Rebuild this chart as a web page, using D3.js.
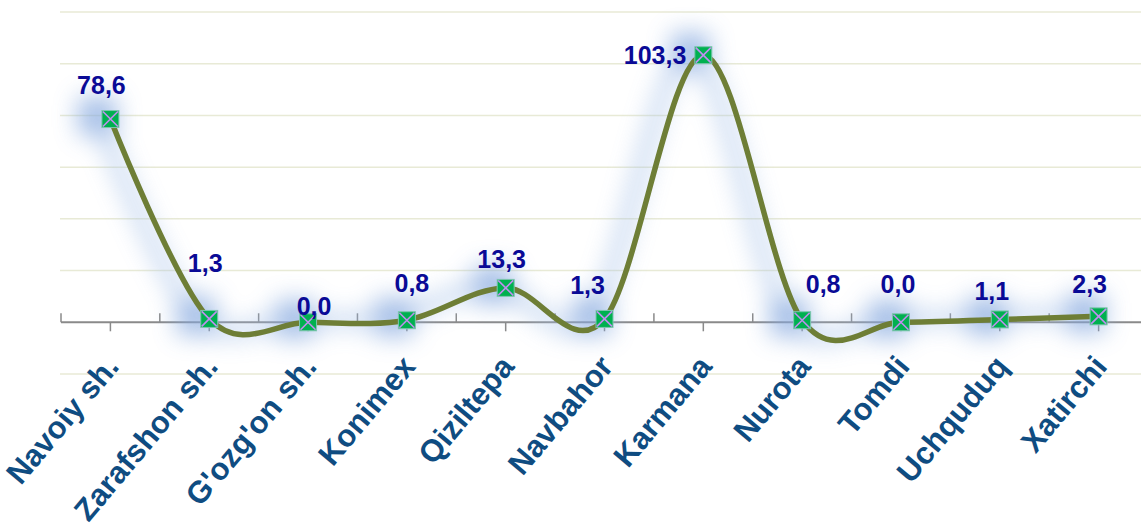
<!DOCTYPE html>
<html>
<head>
<meta charset="utf-8">
<script src="https://cdn.jsdelivr.net/npm/d3@7"></script>
<style>
  html, body { margin: 0; padding: 0; background: #ffffff; }
  svg { display: block; }
</style>
</head>
<body>
<div id="chart"></div>
<script>
// ---- Data ----
const categories = ["Navoiy sh.", "Zarafshon sh.", "G'ozg'on sh.", "Konimex", "Qiziltepa", "Navbahor", "Karmana", "Nurota", "Tomdi", "Uchquduq", "Xatirchi"];
const values = [78.6, 1.3, 0.0, 0.8, 13.3, 1.3, 103.3, 0.8, 0.0, 1.1, 2.3];
const valueLabels = ["78,6", "1,3", "0,0", "0,8", "13,3", "1,3", "103,3", "0,8", "0,0", "1,1", "2,3"];
const gridTicks = [-20, 20, 40, 60, 80, 100, 120];

// ---- Layout (label placement offsets, px) ----
const labelDx = [-9, -4, 6, 5, -4, -17, -17, 21, -3, -8, -9];
const labelDy = [-25, -47, -7, -28, -20, -25, 9, -27, -29, -19, -23];
const labelAnchor = ["middle","middle","middle","middle","middle","middle","end","middle","middle","middle","middle"];

const W = 1141, H = 526;
const svg = d3.select("#chart").append("svg").attr("width", W).attr("height", H);

const x = d3.scaleBand().domain(categories).range([61, 1148]).paddingInner(0).paddingOuter(0);
const y = d3.scaleLinear().domain([-20, 120]).range([374, 12]);
const cx = d => x(d) + x.bandwidth() / 2;

const defs = svg.append("defs");
const f = defs.append("filter").attr("id", "glow").attr("x", "-50%").attr("y", "-50%").attr("width", "200%").attr("height", "200%");
f.append("feGaussianBlur").attr("in", "SourceGraphic").attr("stdDeviation", 12);

// gridlines
svg.append("g").selectAll("line").data(gridTicks).join("line")
  .attr("x1", 60).attr("x2", W)
  .attr("y1", d => y(d)).attr("y2", d => y(d))
  .attr("stroke", "#e8ead6").attr("stroke-width", 1.5);

// x axis line at 0
const y0 = y(0);
svg.append("line").attr("x1", 61).attr("x2", W).attr("y1", y0).attr("y2", y0)
  .attr("stroke", "#8a8a8a").attr("stroke-width", 2);
// boundary ticks (up)
const bounds = categories.map(c => x(c));
svg.append("g").selectAll("line").data(bounds).join("line")
  .attr("x1", d => d).attr("x2", d => d).attr("y1", y0 - 9).attr("y2", y0)
  .attr("stroke", "#8a8a8a").attr("stroke-width", 1.5);
// center ticks (down)
svg.append("g").selectAll("line").data(categories).join("line")
  .attr("x1", d => cx(d)).attr("x2", d => cx(d)).attr("y1", y0).attr("y2", y0 + 9)
  .attr("stroke", "#8a8a8a").attr("stroke-width", 1.5);

const pts = categories.map((c, i) => [cx(c), y(values[i])]);
const lineGen = d3.line().curve(d3.curveCatmullRom.alpha(0));

// glow layer
const glow = svg.append("g").attr("filter", "url(#glow)").attr("transform", "translate(-13,-3)").attr("opacity", 0.75);
glow.append("path").attr("d", lineGen(pts)).attr("fill", "none").attr("stroke", "#a3bfe7").attr("stroke-width", 12);
glow.selectAll("rect").data(pts).join("rect")
  .attr("x", d => d[0] - 19).attr("y", d => d[1] - 19).attr("width", 38).attr("height", 38)
  .attr("fill", "#86a9df");

// main line
svg.append("path").attr("d", lineGen(pts)).attr("fill", "none")
  .attr("stroke", "#6e7e36").attr("stroke-width", 5.5).attr("stroke-linejoin", "round");

// markers
const mk = svg.append("g").selectAll("g").data(pts).join("g")
  .attr("transform", d => `translate(${d[0]},${d[1]})`);
const s = 8.5;
mk.append("rect").attr("x", -s).attr("y", -s).attr("width", 2 * s).attr("height", 2 * s)
  .attr("fill", "#00b050").attr("stroke", "#7fc6b0").attr("stroke-width", 1);
mk.append("path").attr("d", `M${-s + 1},${-s + 1}L${s - 1},${s - 1}M${s - 1},${-s + 1}L${-s + 1},${s - 1}`)
  .attr("stroke", "#c08ef0").attr("stroke-width", 1.6);

// value labels
svg.append("g").selectAll("text").data(values).join("text")
  .attr("transform", (d, i) => `translate(${pts[i][0] + labelDx[i]},${pts[i][1] + labelDy[i]}) scale(1,1.06)`)
  .attr("text-anchor", (d, i) => labelAnchor[i])
  .attr("font-family", "Liberation Sans, Arial, sans-serif")
  .attr("font-weight", "bold").attr("font-size", 25)
  .attr("fill", "#0a0a96")
  .text((d, i) => valueLabels[i]);

// category labels
svg.append("g").selectAll("text").data(categories).join("text")
  .attr("transform", d => `translate(${cx(d) + 10},${y0 + 45}) rotate(-50)`)
  .attr("text-anchor", "end")
  .attr("font-family", "Liberation Sans, Arial, sans-serif")
  .attr("font-weight", "bold").attr("font-size", 31)
  .attr("fill", "#0f4c81")
  .text(d => d);
</script>
</body>
</html>
